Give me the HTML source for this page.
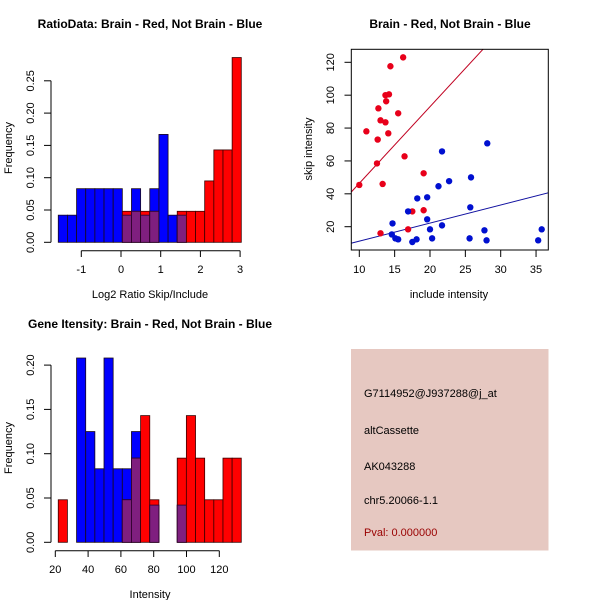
<!DOCTYPE html>
<html><head><meta charset="utf-8"><style>
body{margin:0;background:#fff}
svg{display:block;font-family:"Liberation Sans",sans-serif}
</style></head><body>
<svg id="s" width="600" height="600" viewBox="0 0 600 600" xmlns="http://www.w3.org/2000/svg">
<rect width="600" height="600" fill="#fff"/>
<g id="p1"></g>
<g id="p2"></g>
<g id="p3"></g>
<g>
<rect x="351" y="349" width="197.5" height="201.5" fill="#e6c8c1"/>
<text x="364" y="397" font-size="11">G7114952@J937288@j_at</text>
<text x="364" y="434" font-size="11">altCassette</text>
<text x="364" y="470" font-size="11">AK043288</text>
<text x="364" y="504" font-size="11">chr5.20066-1.1</text>
<text x="364" y="536" font-size="11" fill="#990000">Pval: 0.000000</text>
</g>
</svg>
<script>
// Ratio histogram data
const ratioBinStart = -1.58;
const ratioBinWidth = 0.2305;
const ratioBlue = [0.042,0.042,0.083,0.083,0.083,0.083,0.083,0.042,0.083,0.042,0.083,0.167,0.042,0.042,0,0,0,0,0,0];
const ratioRed = [0,0,0,0,0,0,0,0.048,0.048,0.048,0.048,0,0,0.048,0.048,0.048,0.095,0.143,0.143,0.286];
const ratioXTicks = [-1,0,1,2,3];
const ratioYTicks = [0,0.05,0.10,0.15,0.20,0.25];
// Gene intensity histogram data
const intBinStart = 21.8;
const intBinWidth = 5.58;
const intBlue = [0,0,0.208,0.125,0.083,0.208,0.083,0.083,0.125,0,0.042,0,0,0.042,0,0,0,0,0,0];
const intRed = [0.048,0,0,0,0,0,0,0.048,0.095,0.143,0.048,0,0,0.095,0.143,0.095,0.048,0.048,0.095,0.095];
const intXTicks = [20,40,60,80,100,120];
const intYTicks = [0,0.05,0.10,0.15,0.20];
// Scatter data
const brainInclude = [10,11,12.6,12.7,13,12.5,13.3,13,13.7,13.8,14.2,13.7,14.1,14.4,15.5,16.2,16.4,17.5,16.9,19.1,19.1];
const brainSkip = [45.4,78,73,92,84.7,58.5,46,16,100,96.3,100.5,83.5,76.8,117.6,89,123,62.8,29.3,18.4,52.5,30];
const notBrainInclude = [14.7,14.6,15.1,15.5,16.9,17.5,18.1,18.2,19.6,19.6,20,20.3,21.2,21.7,21.7,22.7,25.7,25.8,25.6,27.7,28,28.1,35.3,35.8];
const notBrainSkip = [22,15.3,12.9,12.3,29.3,10.7,12.3,37.2,37.9,24.5,18.4,12.9,44.6,20.8,65.8,47.7,31.8,50,12.9,17.8,11.7,70.7,11.7,18.4];
const redFit = [-0.2,4.66];
const blueFit = [0.2,1.10];
const scXTicks = [10,15,20,25,30,35];
const scYTicks = [20,40,60,80,100,120];

const NS="http://www.w3.org/2000/svg";
function mk(parent,tag,attrs,text){const e=document.createElementNS(NS,tag);for(const k in attrs)e.setAttribute(k,attrs[k]);if(text!==undefined)e.textContent=text;parent.appendChild(e);return e;}

function histogram(g,title,xlabel,binStart,binWidth,blue,red,xTicks,yTicks,xs,ys,yAxisTop,oy,fmtX){
  const t=mk(g,'text',{x:150,y:oy+28,'text-anchor':'middle','font-size':12,'font-weight':'bold'},title);
  
  
  for(let i=0;i<blue.length;i++){
    const x0=xs(binStart+i*binWidth),x1=xs(binStart+(i+1)*binWidth);
    const hb=blue[i],hr=red[i];
    if(hb>0){const r=mk(g,'rect',{x:x0,y:ys(hb),width:x1-x0,height:ys(0)-ys(hb),fill:'#0000ff',stroke:'#1a0a1a','stroke-width':0.8});
      
      }
    if(hr>0){const r=mk(g,'rect',{x:x0,y:ys(hr),width:x1-x0,height:ys(0)-ys(hr),fill:'#ff0000',stroke:'#3a0000','stroke-width':0.8});
      
      }
    const m=Math.min(hb,hr);
    if(m>0){const r=mk(g,'rect',{x:x0,y:ys(m),width:x1-x0,height:ys(0)-ys(m),fill:'#7f1f7f',stroke:'#2a002a','stroke-width':0.8});
      
      }
  }
  // y axis
  const ya=mk(g,'line',{x1:51,x2:51,y1:ys(0),y2:ys(yTicks[yTicks.length-1]),stroke:'#000'});
  
  
  yTicks.forEach(v=>{mk(g,'line',{x1:44,x2:51,y1:ys(v),y2:ys(v),stroke:'#000'});
    const l=mk(g,'text',{transform:`translate(34,${ys(v)}) rotate(-90)`,'text-anchor':'middle','font-size':11},v.toFixed(2));
    
    });
  const xa=mk(g,'line',{x1:xs(xTicks[0]),x2:xs(xTicks[xTicks.length-1]),y1:oy+250.7,y2:oy+250.7,stroke:'#000'});
  
  
  xTicks.forEach(v=>{mk(g,'line',{x1:xs(v),x2:xs(v),y1:oy+250.7,y2:oy+257,stroke:'#000'});
    const l=mk(g,'text',{x:xs(v),y:oy+273,'text-anchor':'middle','font-size':11},String(v));
    
    });
  const xl=mk(g,'text',{x:150,y:oy+298,'text-anchor':'middle','font-size':11},xlabel);
  
  
  const yl=mk(g,'text',{transform:`translate(12,${oy+148}) rotate(-90)`,'text-anchor':'middle','font-size':11},'Frequency');
  
  
}

// plot 1
{
  const xs=v=>121+v*39.7;
  const ys=v=>242.3-v*646;
  histogram(document.getElementById('p1'),'RatioData: Brain - Red, Not Brain - Blue','Log2 Ratio Skip/Include',ratioBinStart,ratioBinWidth,ratioBlue,ratioRed,ratioXTicks,ratioYTicks,xs,ys,0,0);
}
// plot 3
{
  const xs=v=>55.3+(v-20)*1.64;
  const ys=v=>542.3-v*886;
  histogram(document.getElementById('p3'),'Gene Itensity: Brain - Red, Not Brain - Blue','Intensity',intBinStart,intBinWidth,intBlue,intRed,intXTicks,intYTicks,xs,ys,0,300);
}
// plot 2 scatter
{
  const g=document.getElementById('p2');
  const xs=v=>359.3+(v-10)*7.07;
  const ys=v=>226.7-(v-20)*1.644;
  const t=mk(g,'text',{x:450,y:28,'text-anchor':'middle','font-size':12,'font-weight':'bold'},'Brain - Red, Not Brain - Blue');
  
  
  mk(g,'clipPath',{id:'clp'});
  const cp=g.querySelector('#clp');mk(cp,'rect',{x:351.3,y:49.3,width:197,height:200.7});
  const xmin=8.9,xmax=36.8;
  [[redFit,'#c00020','fit-line-brain'],[blueFit,'#1010a0','fit-line-not-brain']].forEach(([f,c,n])=>{
    const l=mk(g,'line',{x1:xs(xmin),y1:ys(f[0]+f[1]*xmin),x2:xs(xmax),y2:ys(f[0]+f[1]*xmax),stroke:c,'stroke-width':1,'clip-path':'url(#clp)'});
    
    
  });
  brainInclude.forEach((x,i)=>{const c=mk(g,'circle',{cx:xs(x),cy:ys(brainSkip[i]),r:3.2,fill:'#e8001a'});
    
    });
  notBrainInclude.forEach((x,i)=>{const c=mk(g,'circle',{cx:xs(x),cy:ys(notBrainSkip[i]),r:3.2,fill:'#0010d0'});
    
    });
  const b=mk(g,'rect',{x:351.3,y:49.3,width:197,height:200.7,fill:'none',stroke:'#000'});
  
  
  scYTicks.forEach(v=>{mk(g,'line',{x1:344.5,x2:351.3,y1:ys(v),y2:ys(v),stroke:'#000'});
    const l=mk(g,'text',{transform:`translate(334,${ys(v)}) rotate(-90)`,'text-anchor':'middle','font-size':11},String(v));
    
    });
  scXTicks.forEach(v=>{mk(g,'line',{x1:xs(v),x2:xs(v),y1:250,y2:257,stroke:'#000'});
    const l=mk(g,'text',{x:xs(v),y:273,'text-anchor':'middle','font-size':11},String(v));
    
    });
  const xl=mk(g,'text',{x:449,y:298,'text-anchor':'middle','font-size':11},'include intensity');
  
  
  const yl=mk(g,'text',{transform:'translate(312,149) rotate(-90)','text-anchor':'middle','font-size':11},'skip intensity');
  
  
}
</script>
</body></html>
